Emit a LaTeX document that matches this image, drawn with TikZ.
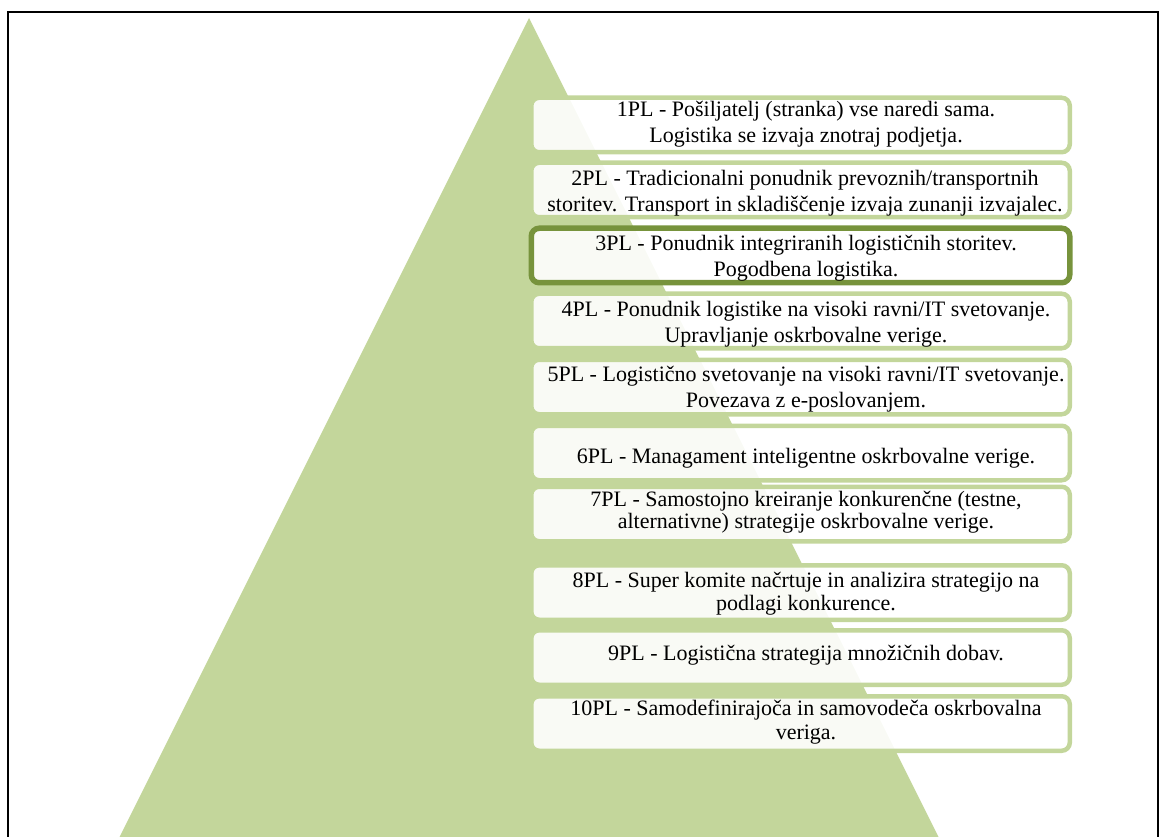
\documentclass[tikz,border=0pt]{standalone}
\usepackage{fontspec}
\setmainfont{Liberation Serif}
\definecolor{pyrgreen}{HTML}{C3D69B}
\definecolor{darkolive}{HTML}{77933C}
\tikzset{
  lvlbox/.style={draw=pyrgreen, line width=4.5pt, rounded corners=8pt,
    fill=white, fill opacity=0.9, minimum width=538.5pt, minimum height=54.5pt,
    inner sep=0pt},
  lvlhi/.style={lvlbox, draw=darkolive, line width=5.5pt},
  lvltext/.style={font=\fontsize{22}{26}\selectfont, align=center, text=black,
    inner sep=0pt},
}
\begin{document}
\begin{tikzpicture}[x=1pt,y=-1pt]
  \useasboundingbox (0,0) rectangle (1163,837);
  \clip (0,0) rectangle (1163,837);
  % outer frame
  \draw[line width=2.2pt, black] (8,860) -- (8,12) -- (1158,12) -- (1158,860);
  % pyramid
  \fill[pyrgreen] (529,18) -- (938.5,837) -- (119.5,837) -- cycle;
  % level boxes
  \node[lvlbox] (b1)  at (800.5,125) {};
  \node[lvlbox] (b2)  at (800.5,190) {};
  \node[lvlhi]  (b3)  at (800.5,255.5) {};
  \node[lvlbox] (b4)  at (800.5,321) {};
  \node[lvlbox] (b5)  at (800.5,387) {};
  \node[lvlbox] (b6)  at (800.5,453) {};
  \node[lvlbox] (b7)  at (800.5,514) {};
  \node[lvlbox] (b8)  at (800.5,592.5) {};
  \node[lvlbox] (b9)  at (800.5,657.5) {};
  \node[lvlbox] (b10) at (800.5,723.5) {};
  % level texts
  \node[lvltext] (t1) at (806,124.5) {1PL - Pošiljatelj (stranka) vse naredi sama.\\Logistika se izvaja znotraj podjetja.};
  \node[lvltext] (t2) at (805,193) {2PL - Tradicionalni ponudnik prevoznih/transportnih\\storitev. Transport in skladiščenje izvaja zunanji izvajalec.};
  \node[lvltext] (t3) at (806,258.5) {3PL - Ponudnik integriranih logističnih storitev.\\Pogodbena logistika.};
  \node[lvltext] (t4) at (806,324) {4PL - Ponudnik logistike na visoki ravni/IT svetovanje.\\Upravljanje oskrbovalne verige.};
  \node[lvltext] (t5) at (806,389.5) {5PL - Logistično svetovanje na visoki ravni/IT svetovanje.\\Povezava z e-poslovanjem.};
  \node[lvltext] (t6) at (806,458) {6PL - Managament inteligentne oskrbovalne verige.};
  \node[lvltext, font=\fontsize{22}{22}\selectfont] (t7) at (806,512.5) {7PL - Samostojno kreiranje konkurenčne (testne,\\alternativne) strategije oskrbovalne verige.};
  \node[lvltext, font=\fontsize{22}{23}\selectfont] (t8) at (806,594) {8PL - Super komite načrtuje in analizira strategijo na\\podlagi konkurence.};
  \node[lvltext] (t9) at (806,655.5) {9PL - Logistična strategija množičnih dobav.};
  \node[lvltext, font=\fontsize{22}{24}\selectfont] (t10) at (806,722.5) {10PL - Samodefinirajoča in samovodeča oskrbovalna\\veriga.};
\end{tikzpicture}
\end{document}
